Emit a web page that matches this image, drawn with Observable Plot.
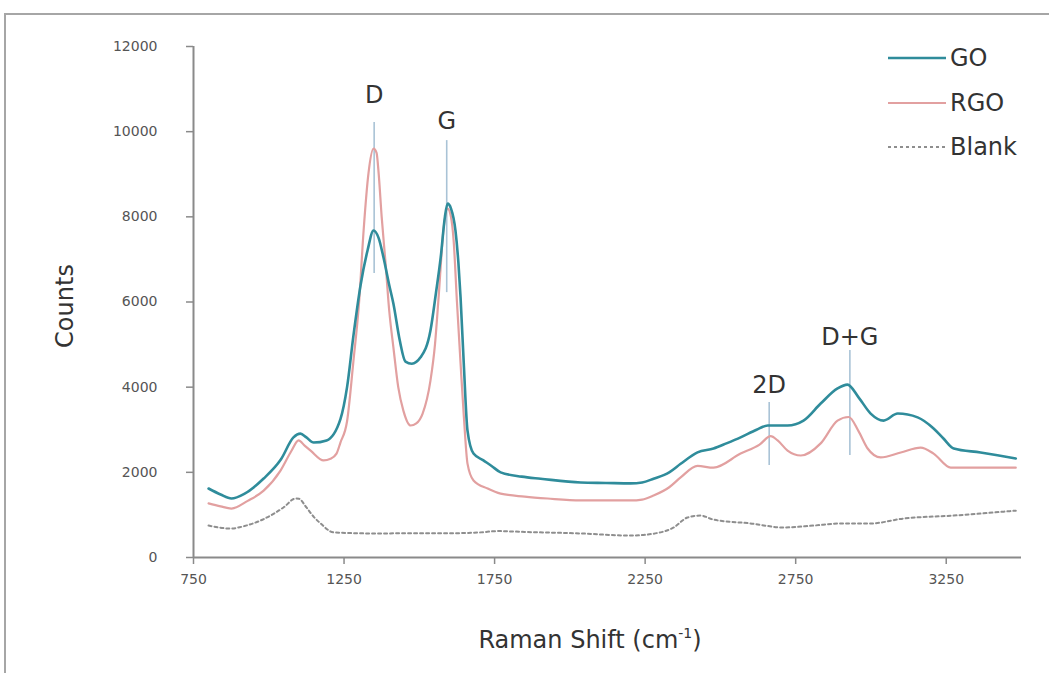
<!DOCTYPE html>
<html><head><meta charset="utf-8">
<script src="https://cdn.jsdelivr.net/npm/d3@7"></script>
<script src="https://cdn.jsdelivr.net/npm/@observablehq/plot@0.6"></script>
<style>
html,body{margin:0;padding:0;background:#fff;overflow:hidden;}
#wrap{position:relative;width:1049px;height:673px;}
#frame{position:absolute;left:4px;top:13px;width:1100px;height:700px;border:2px solid #a6a6a6;box-sizing:border-box;pointer-events:none;}
.lg{position:absolute;left:888px;height:30px;display:flex;align-items:center;font-family:"DejaVu Sans",sans-serif;font-size:24px;color:#333;}
.lg svg{margin-right:4px;}
</style></head>
<body>
<div id="wrap"><div id="chart"></div><div id="frame"></div><div id="legend"></div></div>
<script>
// Series: GO
const goShift  = [800,840,876,920,983,1040,1082,1105,1125,1149,1192,1238,1260,1281,1305,1328,1348,1365,1381,1400,1414,1435,1454,1475,1504,1537,1555,1571,1585,1594,1605,1620,1630,1637,1648,1660,1680,1713,1740,1770,1840,1903,2036,2120,2202,2240,2278,2330,2368,2424,2477,2520,2567,2620,2657,2723,2776,2833,2889,2922,2960,2999,3042,3089,3155,3208,3240,3275,3364,3420,3481];
const goCounts = [1620,1480,1385,1500,1855,2300,2820,2910,2820,2700,2750,3250,4000,5200,6400,7210,7680,7500,7045,6400,5960,5100,4600,4550,4700,5330,6200,7045,8000,8310,8200,7680,6900,6105,4500,2980,2440,2280,2150,2000,1900,1850,1760,1750,1740,1760,1850,2000,2200,2470,2560,2680,2820,3000,3100,3100,3215,3615,3970,4060,3750,3380,3215,3380,3290,3030,2800,2560,2465,2400,2325];
// Series: RGO
const rgoShift  = [800,840,876,930,983,1039,1075,1099,1120,1139,1182,1205,1225,1238,1260,1281,1300,1315,1331,1348,1358,1365,1375,1388,1400,1414,1430,1447,1471,1490,1511,1537,1552,1564,1580,1594,1605,1614,1625,1637,1648,1660,1680,1727,1770,1850,1926,2036,2202,2240,2278,2330,2368,2424,2477,2567,2630,2667,2690,2723,2767,2833,2889,2926,2960,2989,3032,3099,3165,3208,3265,3331,3481];
const rgoCounts = [1270,1200,1150,1330,1570,2040,2500,2750,2620,2510,2280,2320,2440,2700,3200,4600,6000,7680,9015,9600,9500,9015,8000,6900,5800,4930,4000,3450,3100,3150,3380,4155,5000,6105,7680,8195,8000,7440,6000,4555,3300,2205,1810,1620,1500,1430,1385,1340,1340,1360,1455,1650,1880,2150,2110,2440,2650,2850,2750,2510,2395,2680,3215,3300,2950,2560,2350,2465,2580,2440,2110,2110,2110];
// Series: Blank
const blankShift  = [800,873,920,973,1049,1089,1100,1125,1150,1172,1215,1348,1500,1600,1703,1760,1850,2036,2202,2301,2345,2391,2434,2477,2600,2710,2810,2899,2999,3109,3275,3481];
const blankCounts = [750,680,740,870,1175,1385,1380,1175,950,800,590,565,570,570,590,620,600,565,515,590,705,940,985,890,800,705,750,800,800,915,985,1100];
// Peak annotations
const peakLabels = ["D","G","2D","D+G"];
const peakShift  = [1350,1591,2662,2930];
const peakLabelY = [10850,10240,4040,5165];
const peakLineTop = [10215,9790,3640,4860];
const peakLineBottom = [6670,6220,2160,2395];
// Axis ticks
const xTicks = [750,1250,1750,2250,2750,3250];
const yTicks = [0,2000,4000,6000,8000,10000,12000];
const seriesNames = ["GO","RGO","Blank"];
const seriesColors = ["#2f8c9b","#e2a0a0","#8e8e8e"];

const toRows = (xs, ys, name) => xs.map((x,i)=>({shift:x, counts:ys[i], series:name}));
const go = toRows(goShift, goCounts, "GO");
const rgo = toRows(rgoShift, rgoCounts, "RGO");
const blank = toRows(blankShift, blankCounts, "Blank");
const peaks = peakLabels.map((l,i)=>({label:l, x:peakShift[i], ly:peakLabelY[i], y1:peakLineBottom[i], y2:peakLineTop[i]}));

const plot = Plot.plot({
  width: 1049, height: 673,
  marginLeft: 193, marginRight: 28, marginTop: 46, marginBottom: 116,
  style: {fontFamily: "DejaVu Sans, sans-serif", background: "transparent", overflow: "visible"},
  x: {domain: [750, 3500]},
  y: {domain: [0, 12000]},
  marks: [
    Plot.axisX({ticks: xTicks, tickSize: 7, tickPadding: 10, tickFormat: d => String(d), fontSize: 14, color: "#555", stroke: "#8a8a8a", strokeWidth: 1.5, label: null}),
    Plot.axisY({ticks: yTicks, tickSize: 7, tickPadding: 29, tickFormat: d => String(d), fontSize: 14, color: "#555", stroke: "#8a8a8a", strokeWidth: 1.5, label: null}),
    Plot.ruleX(peaks, {x: "x", y1: "y1", y2: "y2", stroke: "#a9c3d6", strokeWidth: 1.6}),
    Plot.line(blank, {x: "shift", y: "counts", stroke: seriesColors[2], strokeWidth: 2, strokeDasharray: "3,3", curve: "monotone-x"}),
    Plot.line(rgo, {x: "shift", y: "counts", stroke: seriesColors[1], strokeWidth: 2.2, curve: "monotone-x"}),
    Plot.line(go, {x: "shift", y: "counts", stroke: seriesColors[0], strokeWidth: 2.6, curve: "monotone-x"}),
    Plot.ruleY([0], {stroke: "#8a8a8a", strokeWidth: 2}),
    Plot.ruleX([750], {y1: 0, y2: 12000, stroke: "#8a8a8a", strokeWidth: 2}),
    Plot.text(peaks, {x: "x", y: "ly", text: "label", fontSize: 24, fill: "#333"})
  ]
});
document.getElementById("chart").appendChild(plot);

// Axis titles
const svg = d3.select(plot);
svg.append("text").attr("transform","translate(66,306) rotate(-90)")
  .attr("text-anchor","middle").attr("dominant-baseline","middle")
  .attr("font-size",24).attr("fill","#333").attr("font-family","DejaVu Sans, sans-serif").text("Counts");
const xt = svg.append("text").attr("x",590).attr("y",648)
  .attr("text-anchor","middle")
  .attr("font-size",24).attr("fill","#333").attr("font-family","DejaVu Sans, sans-serif");
xt.append("tspan").text("Raman Shift (cm");
xt.append("tspan").attr("font-size",14).attr("dy",-10).text("-1");
xt.append("tspan").attr("dy",10).text(")");

// Legend
const legendTops = [43,88,132];
const lg = d3.select("#legend");
seriesNames.forEach((n,i)=>{
  const row = lg.append("div").attr("class","lg").style("top", legendTops[i]+"px");
  const s = row.append("svg").attr("width",58).attr("height",6);
  s.append("line").attr("x1",0).attr("x2",58).attr("y1",3).attr("y2",3)
    .attr("stroke", seriesColors[i]).attr("stroke-width", i===0?2.6:2.2)
    .attr("stroke-dasharray", i===2 ? "3,3" : null);
  row.append("span").text(n);
});
</script>
</body></html>
